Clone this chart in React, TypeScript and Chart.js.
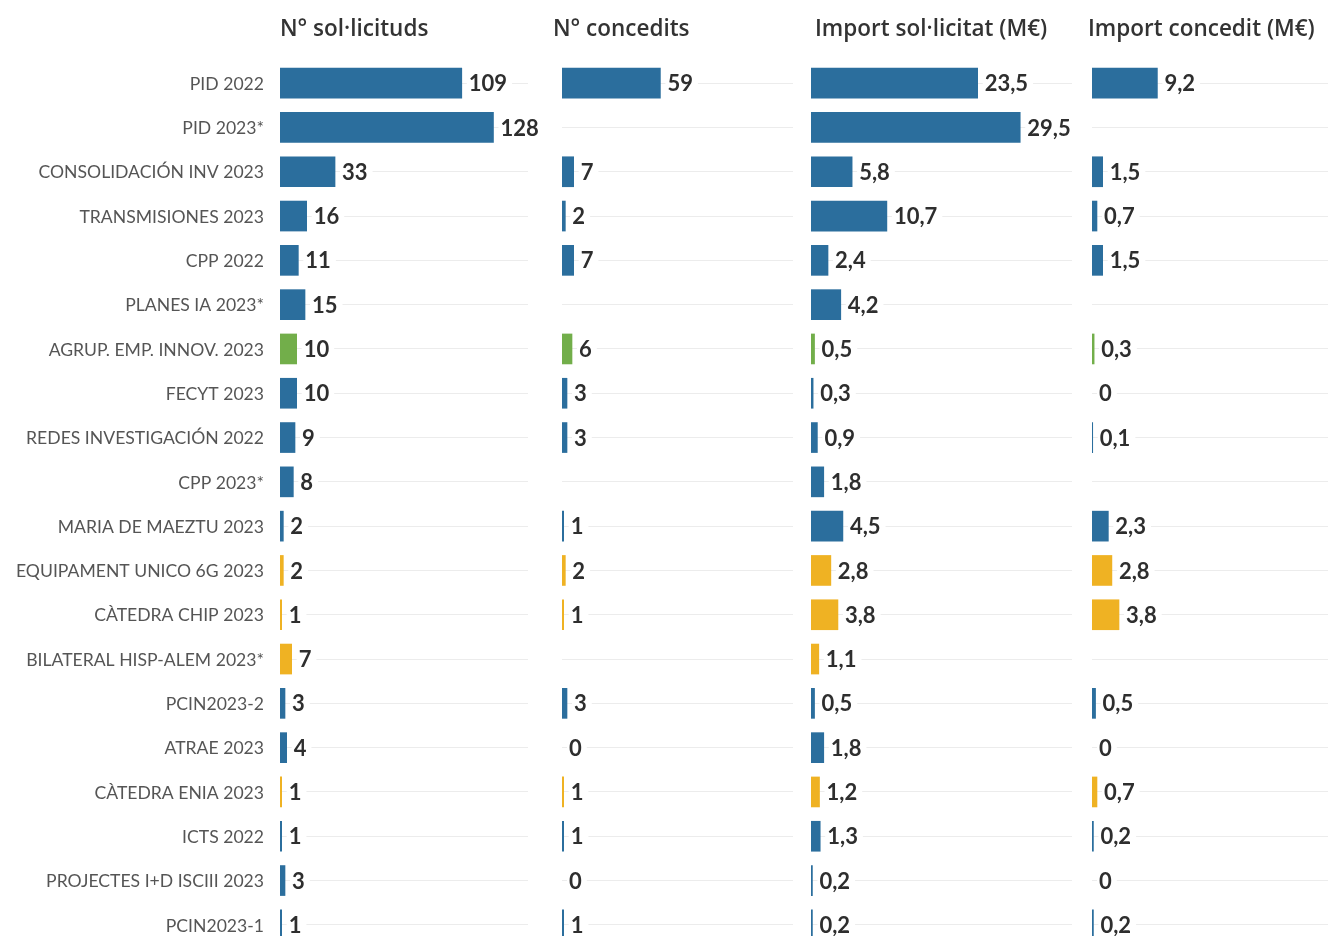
import React, { useEffect, useRef } from "react";
import { Chart, registerables } from "chart.js";

Chart.register(...registerables);

const categories = [
  "PID 2022",
  "PID 2023*",
  "CONSOLIDACIÓN INV 2023",
  "TRANSMISIONES 2023",
  "CPP 2022",
  "PLANES IA 2023*",
  "AGRUP. EMP. INNOV. 2023",
  "FECYT 2023",
  "REDES INVESTIGACIÓN 2022",
  "CPP 2023*",
  "MARIA DE MAEZTU 2023",
  "EQUIPAMENT UNICO 6G 2023",
  "CÀTEDRA CHIP 2023",
  "BILATERAL HISP-ALEM 2023*",
  "PCIN2023-2",
  "ATRAE 2023",
  "CÀTEDRA ENIA 2023",
  "ICTS 2022",
  "PROJECTES I+D ISCIII 2023",
  "PCIN2023-1",
];

const solicituds = [109, 128, 33, 16, 11, 15, 10, 10, 9, 8, 2, 2, 1, 7, 3, 4, 1, 1, 3, 1];
const concedits = [59, null, 7, 2, 7, null, 6, 3, 3, null, 1, 2, 1, null, 3, 0, 1, 1, 0, 1];
const importSollicitat = [23.5, 29.5, 5.8, 10.7, 2.4, 4.2, 0.5, 0.3, 0.9, 1.8, 4.5, 2.8, 3.8, 1.1, 0.5, 1.8, 1.2, 1.3, 0.2, 0.2];
const importConcedit = [9.2, null, 1.5, 0.7, 1.5, null, 0.3, 0, 0.1, null, 2.3, 2.8, 3.8, null, 0.5, 0, 0.7, 0.2, 0, 0.2];
const groups = ["b", "b", "b", "b", "b", "b", "g", "b", "b", "b", "b", "y", "y", "y", "b", "b", "y", "b", "b", "b"];

const headers = ["N° sol·licituds", "N° concedits", "Import sol·licitat (M€)", "Import concedit (M€)"];

const groupColors: Record<string, string> = { b: "#2b6e9d", g: "#72ae4a", y: "#efb223" };

const FONT = "Lato, 'Noto Sans', sans-serif";
const HEADER_FONT = "'Open Sans', 'Noto Sans', sans-serif";

type PanelProps = {
  values: (number | null)[];
  max: number;
  decimals: boolean;
  showLabels: boolean;
  left: number;
  width: number;
  padLeft: number;
  padRight: number;
};

const H = 960;

const valueLabelPlugin = {
  id: "valueLabels",
  afterDatasetsDraw(chart: any, _args: any, opts: any) {
    const ctx = chart.ctx;
    const meta = chart.getDatasetMeta(0);
    const data = chart.data.datasets[0].data;
    ctx.save();
    ctx.font = `bold 22px ${FONT}`;
    ctx.textBaseline = "middle";
    ctx.textAlign = "left";
    meta.data.forEach((bar: any, i: number) => {
      const v = data[i];
      if (v === null || v === undefined) return;
      const txt = v === 0 ? "0" : opts.decimals ? v.toFixed(1).replace(".", ",") : String(v);
      const x = bar.x + 7;
      const y = bar.y;
      const w = ctx.measureText(txt).width;
      ctx.fillStyle = "#ffffff";
      ctx.fillRect(x - 2, y - 10, w + 7, 20);
      ctx.fillStyle = "#2e2e2e";
      ctx.fillText(txt, x, y + 1);
    });
    ctx.restore();
  },
};

const categoryLabelPlugin = {
  id: "categoryLabels",
  afterDraw(chart: any, _args: any, opts: any) {
    if (!opts.show) return;
    const ctx = chart.ctx;
    const yScale = chart.scales.y;
    ctx.save();
    ctx.font = `17.6px ${FONT}`;
    ctx.fillStyle = "#555555";
    ctx.textAlign = "right";
    ctx.textBaseline = "middle";
    chart.data.labels.forEach((lab: string, i: number) => {
      ctx.fillText(lab, chart.chartArea.left - 16, yScale.getPixelForValue(i) + 1);
    });
    ctx.restore();
  },
};

function Panel(p: PanelProps) {
  const ref = useRef<HTMLCanvasElement>(null);
  useEffect(() => {
    if (!ref.current) return;
    const chart = new Chart(ref.current, {
      type: "bar",
      data: {
        labels: categories,
        datasets: [
          {
            data: p.values as any,
            backgroundColor: groups.map((g, i) => (p.values[i] ? groupColors[g] : "rgba(0,0,0,0)")),
            barThickness: 30,
            borderWidth: 0,
          },
        ],
      },
      options: {
        indexAxis: "y",
        animation: false,
        responsive: false,
        layout: { padding: { left: p.padLeft, right: p.padRight, top: 61, bottom: 13 } },
        plugins: {
          legend: { display: false },
          tooltip: { enabled: false },
          valueLabels: { decimals: p.decimals },
          categoryLabels: { show: p.showLabels },
        } as any,
        scales: {
          x: { display: false, min: 0, max: p.max },
          y: {
            display: true,
            grid: { color: "#ececec", lineWidth: 1, offset: false, drawTicks: false },
            border: { display: false },
            ticks: { display: false },
            afterFit: (scale: any) => {
              scale.width = 0;
            },
          },
        },
      },
      plugins: [valueLabelPlugin, categoryLabelPlugin],
    });
    return () => chart.destroy();
  }, []);
  return (
    <canvas
      ref={ref}
      width={p.width}
      height={H}
      style={{ position: "absolute", left: p.left, top: 0, width: p.width, height: H }}
    />
  );
}

const headerLefts = [280, 553, 815, 1088];

export default function App() {
  useEffect(() => {
    document.body.style.margin = "0";
    document.body.style.overflow = "hidden";
  }, []);
  return (
    <div style={{ position: "relative", width: 1328, height: 936, overflow: "hidden", background: "#fff" }}>
      <Panel values={solicituds} max={148.7} decimals={false} showLabels={true} left={0} width={545} padLeft={280} padRight={17} />
      <Panel values={concedits} max={138.5} decimals={false} showLabels={false} left={555} width={250} padLeft={7} padRight={12} />
      <Panel values={importSollicitat} max={36.8} decimals={true} showLabels={false} left={805} width={280} padLeft={6} padRight={13} />
      <Panel values={importConcedit} max={33.2} decimals={true} showLabels={false} left={1085} width={243} padLeft={7} padRight={0} />
      {headers.map((h, i) => (
        <div
          key={h}
          style={{
            position: "absolute",
            left: headerLefts[i],
            top: 14,
            fontFamily: HEADER_FONT,
            fontWeight: 600,
            fontSize: 22.5,
            lineHeight: "28px",
            color: "#333",
            whiteSpace: "nowrap",
          }}
        >
          {h}
        </div>
      ))}
    </div>
  );
}
